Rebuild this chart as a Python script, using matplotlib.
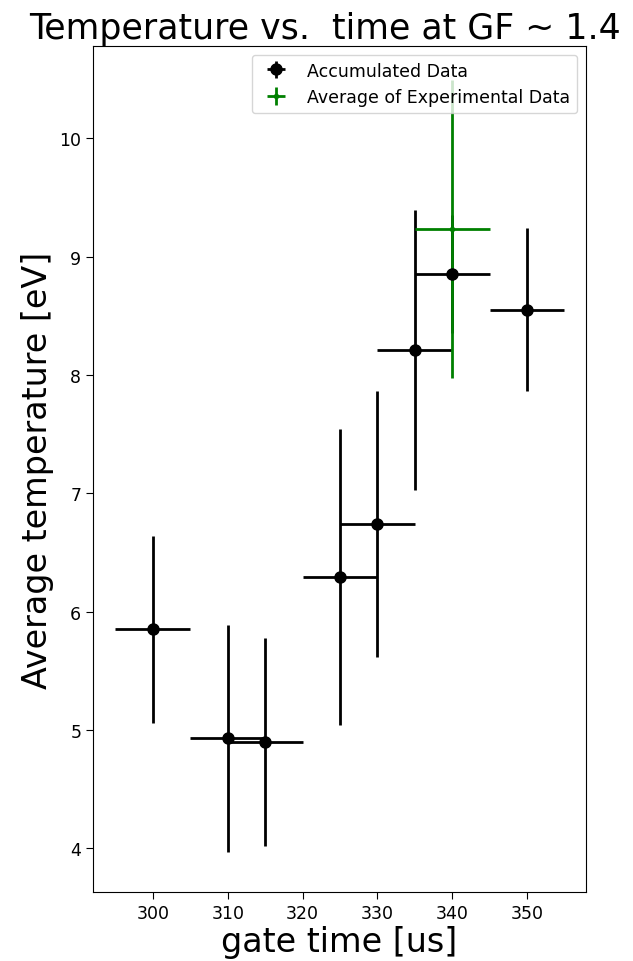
from matplotlib import pyplot as plt

# accumulated data
gate_time = [300, 310, 315, 325, 330, 335, 340, 350]
temperature = [5.85, 4.93, 4.90, 6.29, 6.74, 8.21, 8.85, 8.55]
temp_err = [0.79, 0.96, 0.88, 1.25, 1.12, 1.18, 0.50, 0.69]
time_err = [5, 5, 5, 5, 5, 5, 5, 5]

# average of experimental data
avg_time = [340]
avg_temp = [9.23]
avg_temp_err = [1.26]
avg_time_err = [5]

fig = plt.figure(figsize=(6.33, 9.62), dpi=100)
ax = fig.add_axes([0.147, 0.0717, 0.779, 0.8795])

ax.errorbar(gate_time, temperature, yerr=temp_err, xerr=time_err,
            fmt="ko", markersize=8, elinewidth=2, label="Accumulated Data")
ax.errorbar(avg_time, avg_temp, yerr=avg_temp_err, xerr=avg_time_err,
            fmt=".", color="green", markersize=6, elinewidth=2,
            label="Average of Experimental Data")

ax.set_xlim(292, 357.9)
ax.set_ylim(3.63, 10.78)
ax.tick_params(labelsize=12.5, length=5)
ax.set_title("Temperature vs.  time at GF ~ 1.4", fontsize=25, x=0.47)
ax.set_xlabel("gate time [us]", fontsize=24, labelpad=2)
ax.set_ylabel("Average temperature [eV]", fontsize=24)
ax.legend(loc="upper right", fontsize=12.5)

fig.savefig("out.png")
